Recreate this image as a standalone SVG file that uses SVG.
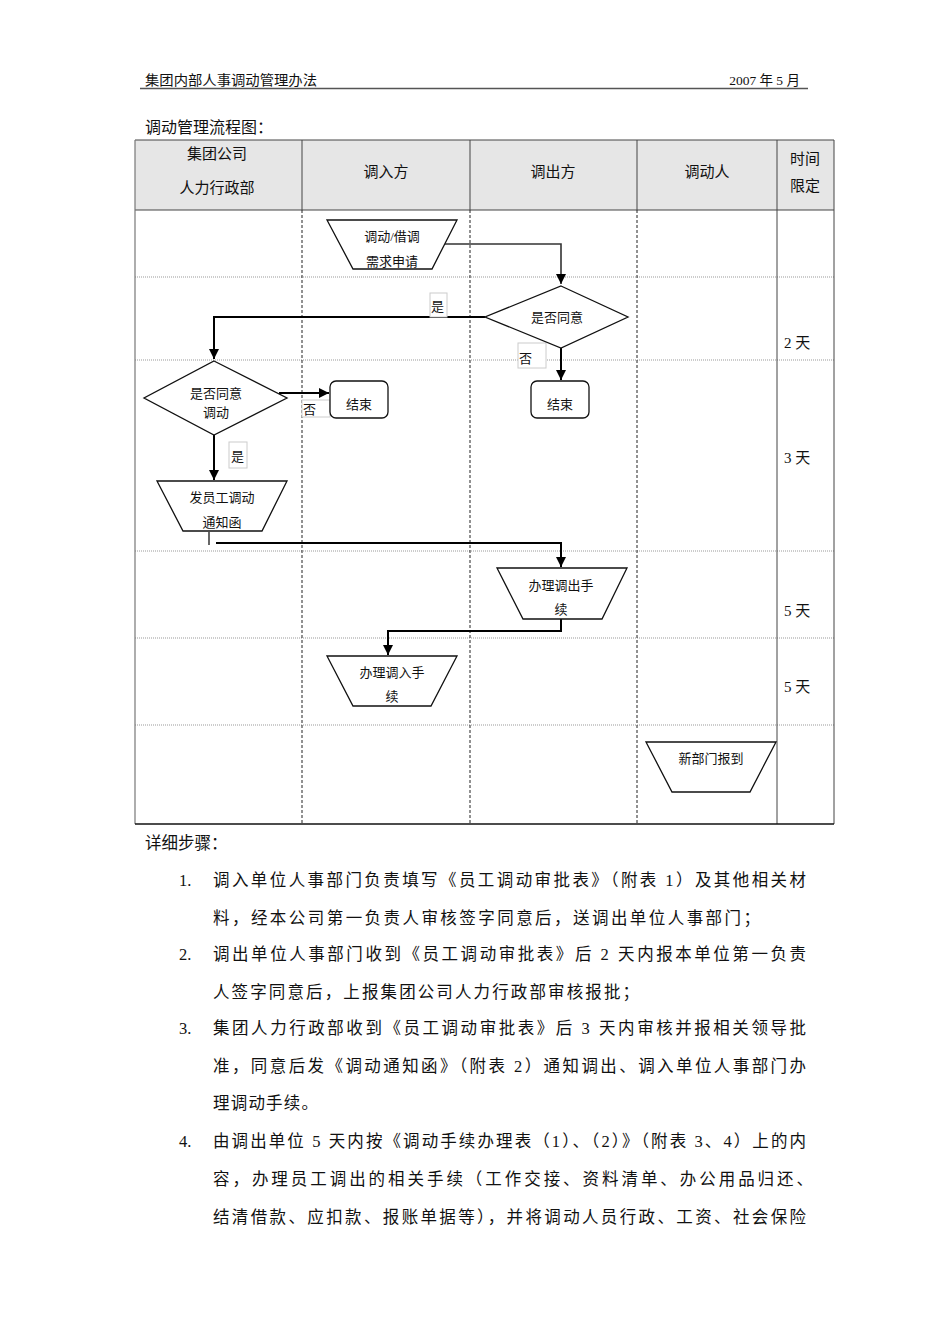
<svg xmlns="http://www.w3.org/2000/svg" width="950" height="1344" viewBox="0 0 950 1344">
<style>
.t{font-family:"Liberation Serif","Noto Sans CJK SC",serif;fill:#111}
.n{font-size:13px;text-anchor:middle}
.h{font-size:15px;text-anchor:middle}
.b{font-size:16.5px}
.shape{fill:#fff;stroke:#111;stroke-width:1.3}
.conn{fill:none;stroke:#000;stroke-width:2}
.lbl{fill:#fff;stroke:#ccc;stroke-width:1}
.dot{stroke:#999;stroke-width:1;stroke-dasharray:1 1}
.dash{stroke:#222;stroke-width:1;stroke-dasharray:3 2}
.solid{stroke:#444;stroke-width:1}
</style>
<defs>
<marker id="arr" markerUnits="userSpaceOnUse" markerWidth="10" markerHeight="10" refX="10" refY="5" orient="auto">
<path d="M0,0 L10,5 L0,10 z" fill="#000"/>
</marker>
</defs>
<rect width="950" height="1344" fill="#fff"/>
<g id="page-header">
<text class="t" x="145" y="85" font-size="13.5" textLength="172" lengthAdjust="spacingAndGlyphs">集团内部人事调动管理办法</text>
<text class="t" x="800" y="85" font-size="13.5" text-anchor="end">2007 年 5 月</text>
<line x1="140" y1="88.5" x2="808" y2="88.5" stroke="#555" stroke-width="1.6"/>
<text class="t" x="145" y="133" font-size="16">调动管理流程图：</text>
</g>
<g id="table">
<rect x="135" y="140" width="699" height="70" fill="#e6e6e6"/>
<line class="dot" x1="135" y1="277" x2="834" y2="277"/>
<line class="dot" x1="135" y1="360" x2="834" y2="360"/>
<line class="dot" x1="135" y1="551" x2="834" y2="551"/>
<line class="dot" x1="135" y1="638" x2="834" y2="638"/>
<line class="dot" x1="135" y1="725" x2="834" y2="725"/>
<line class="solid" x1="135" y1="140" x2="834" y2="140"/>
<line class="solid" x1="135" y1="210" x2="834" y2="210"/>
<line class="solid" x1="302" y1="140" x2="302" y2="210"/>
<line class="solid" x1="470" y1="140" x2="470" y2="210"/>
<line class="solid" x1="637" y1="140" x2="637" y2="210"/>
<line class="dash" x1="302" y1="210" x2="302" y2="824"/>
<line class="dash" x1="470" y1="210" x2="470" y2="824"/>
<line class="dash" x1="637" y1="210" x2="637" y2="824"/>
<line class="solid" x1="777" y1="140" x2="777" y2="824"/>
<line stroke="#777" stroke-width="1.2" x1="135" y1="140" x2="135" y2="824"/>
<line class="solid" x1="834" y1="140" x2="834" y2="824"/>
<line stroke="#111" stroke-width="1.5" x1="135" y1="824" x2="834" y2="824"/>
<text class="t h" x="217" y="159">集团公司</text>
<text class="t h" x="217" y="193">人力行政部</text>
<text class="t h" x="386" y="177">调入方</text>
<text class="t h" x="553" y="177">调出方</text>
<text class="t h" x="707" y="177">调动人</text>
<text class="t h" x="805" y="164">时间</text>
<text class="t h" x="805" y="191">限定</text>
<text class="t" x="784" y="348" font-size="15">2 天</text>
<text class="t" x="784" y="463" font-size="15">3 天</text>
<text class="t" x="784" y="616" font-size="15">5 天</text>
<text class="t" x="784" y="692" font-size="15">5 天</text>
</g>
<g id="connectors">
<path class="conn" style="stroke:#333;stroke-width:1.6" d="M445,244 H561 V284" marker-end="url(#arr)"/>
<path class="conn" d="M485,317 H214 V359" marker-end="url(#arr)"/>
<path class="conn" d="M561,348 V380" marker-end="url(#arr)"/>
<path class="conn" d="M279,393 H329" marker-end="url(#arr)"/>
<path class="conn" d="M214,435 V480" marker-end="url(#arr)"/>
<path class="conn" style="stroke-width:1.2" d="M209,532 V545"/>
<path class="conn" d="M216,543 H561 V567" marker-end="url(#arr)"/>
<path class="conn" d="M561,619 V631 H388 V655" marker-end="url(#arr)"/>
<rect class="lbl" x="430" y="293" width="17" height="24"/>
<text class="t" x="431" y="311" font-size="13">是</text>
<rect class="lbl" x="518" y="343" width="28" height="25"/>
<text class="t" x="519" y="363" font-size="13">否</text>
<rect class="lbl" x="302" y="400" width="28" height="17"/>
<text class="t" x="303" y="414" font-size="13">否</text>
<rect class="lbl" x="229" y="442" width="18" height="26"/>
<text class="t" x="231" y="461" font-size="13">是</text>
</g>
<g id="node-request">
<polygon class="shape" points="327,220 457,220 432,269 353,269"/>
<text class="t n" x="392" y="241">调动/借调</text>
<text class="t n" x="392" y="266">需求申请</text>
</g>
<g id="node-decision-out">
<polygon class="shape" points="561,286 628,317 561,348 485,317"/>
<text class="t n" x="557" y="322">是否同意</text>
</g>
<g id="node-end-out">
<rect class="shape" x="531" y="381" width="58" height="37" rx="6"/>
<text class="t n" x="560" y="409">结束</text>
</g>
<g id="node-decision-group">
<polygon class="shape" points="214,361 287,398 214,435 144,398"/>
<text class="t n" x="216" y="398">是否同意</text>
<text class="t n" x="216" y="417">调动</text>
</g>
<g id="node-end-group">
<rect class="shape" x="330" y="381" width="58" height="37" rx="6"/>
<text class="t n" x="359" y="409">结束</text>
</g>
<g id="node-notice">
<polygon class="shape" points="157,481 287,481 262,531 183,531"/>
<text class="t n" x="222" y="502">发员工调动</text>
<text class="t n" x="222" y="527">通知函</text>
</g>
<g id="node-out-proc">
<polygon class="shape" points="497,568 627,568 602,619 523,619"/>
<text class="t n" x="561" y="590">办理调出手</text>
<text class="t n" x="561" y="614">续</text>
</g>
<g id="node-in-proc">
<polygon class="shape" points="327,656 457,656 431,706 353,706"/>
<text class="t n" x="392" y="677">办理调入手</text>
<text class="t n" x="392" y="701">续</text>
</g>
<g id="node-report">
<polygon class="shape" points="646,742 776,742 750,792 672,792"/>
<text class="t n" x="711" y="763">新部门报到</text>
</g>
<g id="steps">
<text class="t" x="145" y="849" font-size="16.5">详细步骤：</text>
<text class="t b" x="179" y="886">1.</text>
<text class="t b" x="213" y="886" textLength="593" lengthAdjust="spacing">调入单位人事部门负责填写《员工调动审批表》（附表 1）及其他相关材</text>
<text class="t b" x="213" y="924" textLength="547" lengthAdjust="spacing">料，经本公司第一负责人审核签字同意后，送调出单位人事部门；</text>
<text class="t b" x="179" y="960">2.</text>
<text class="t b" x="213" y="960" textLength="593" lengthAdjust="spacing">调出单位人事部门收到《员工调动审批表》后 2 天内报本单位第一负责</text>
<text class="t b" x="213" y="998" textLength="426" lengthAdjust="spacing">人签字同意后，上报集团公司人力行政部审核报批；</text>
<text class="t b" x="179" y="1034">3.</text>
<text class="t b" x="213" y="1034" textLength="593" lengthAdjust="spacing">集团人力行政部收到《员工调动审批表》后 3 天内审核并报相关领导批</text>
<text class="t b" x="213" y="1072" textLength="593" lengthAdjust="spacing">准，同意后发《调动通知函》（附表 2）通知调出、调入单位人事部门办</text>
<text class="t b" x="213" y="1109" textLength="105" lengthAdjust="spacing">理调动手续。</text>
<text class="t b" x="179" y="1147">4.</text>
<text class="t b" x="213" y="1147" textLength="593" lengthAdjust="spacing">由调出单位 5 天内按《调动手续办理表（1）、（2）》（附表 3、4）上的内</text>
<text class="t b" x="213" y="1185" textLength="600" lengthAdjust="spacing">容，办理员工调出的相关手续（工作交接、资料清单、办公用品归还、</text>
<text class="t b" x="213" y="1223" textLength="593" lengthAdjust="spacing">结清借款、应扣款、报账单据等），并将调动人员行政、工资、社会保险</text>
</g>
</svg>
